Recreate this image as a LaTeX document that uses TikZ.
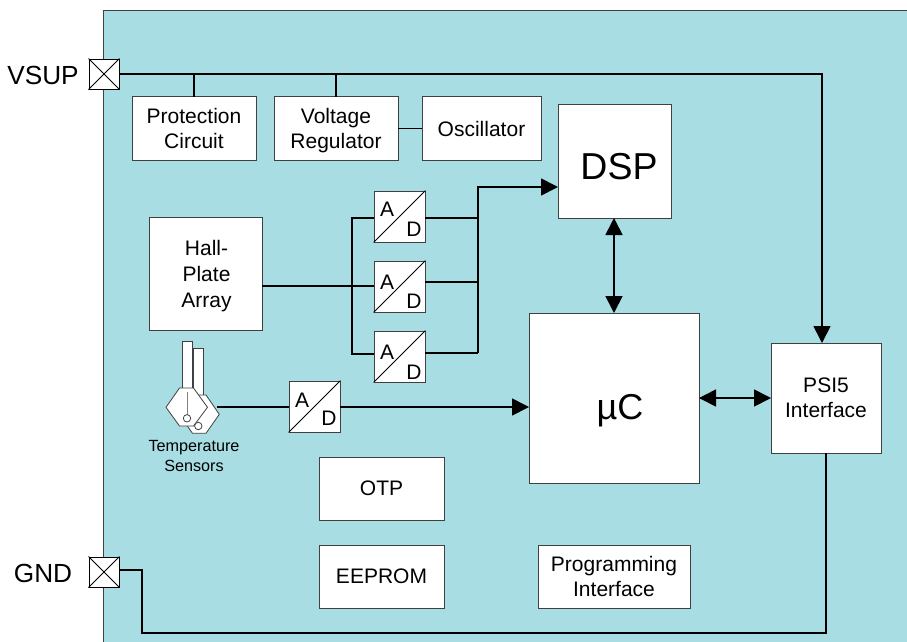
\documentclass[tikz,border=0pt]{standalone}
\usepackage{fontspec}
\setmainfont{Liberation Sans}
\usetikzlibrary{arrows.meta,calc}
\definecolor{panelcol}{HTML}{A8DDE3}
\definecolor{edgecol}{HTML}{404040}
\tikzset{
  boxstyle/.style={draw=edgecol,fill=white,line width=0.9pt,inner sep=0pt,align=center,font=\fontsize{21}{25}\selectfont},
  padstyle/.style={draw=black,fill=white,line width=1pt,minimum size=30pt,inner sep=0pt},
  pinlabel/.style={font=\fontsize{26.2}{30}\selectfont,inner sep=0pt},
  adletter/.style={font=\fontsize{21}{24}\selectfont,inner sep=0pt},
  bigletter/.style={inner sep=0pt},
  wire/.style={draw=black,line width=1.7pt},
  wirethin/.style={draw=black,line width=1.3pt},
  arrowed/.style={wire,-{Triangle[length=17pt,width=17pt]}},
  biarrow/.style={wire,{Triangle[length=17pt,width=17pt]}-{Triangle[length=17pt,width=17pt]}},
  sensorbody/.style={draw=edgecol,fill=white,line width=0.8pt},
  sensorline/.style={draw=gray,line width=0.9pt},
}
\newcommand{\blockat}[6]{% name, x0,y0,x1,y1, text
  \node[boxstyle,minimum width={(#4-#2)*1pt},minimum height={(#5-#3)*1pt}] (#1) at ({(#2+#4)/2},{(#3+#5)/2}) {#6};}
\newcommand{\adcell}[5]{% name, x0, y0, A offset y, D offset y
  \node[boxstyle,minimum size=51pt] (#1) at ({#2+25.5},{#3+25.5}) {};
  \draw[draw=black,line width=0.8pt] (#1.south west) -- (#1.north east);
  \node[adletter] (#1a) at ({#2+13},{#3+#4}) {A};
  \node[adletter] (#1d) at ({#2+40},{#3+#5}) {D};}
\begin{document}
\begin{tikzpicture}[x=1pt,y=-1pt]
\useasboundingbox (0,0) rectangle (907,641);
\fill[panelcol] (103.5,10) rectangle (912,646);
\draw[edgecol,line width=0.9pt] (912,10) -- (103.5,10) -- (103.5,646);

\node[padstyle] (vsup) at (104,74) {};
\draw[black,line width=1pt] (vsup.north west) -- (vsup.south east) (vsup.north east) -- (vsup.south west);
\node[padstyle] (gnd) at (104,572) {};
\draw[black,line width=1pt] (gnd.north west) -- (gnd.south east) (gnd.north east) -- (gnd.south west);
\node[pinlabel] (vsuplabel) at (43,75.5) {VSUP};
\node[pinlabel] (gndlabel) at (43,573.5) {GND};

\blockat{prot}{132}{96.5}{256}{160.5}{Protection\\Circuit}
\blockat{vreg}{274}{96.5}{398}{160.5}{Voltage\\\smash{Regulator}}
\blockat{osc}{422}{96.5}{541}{160.5}{Oscillator}
\blockat{dsp}{558}{104}{671}{218}{}
\node[bigletter,font=\fontsize{37.5}{40}\selectfont] (dsptext) at (619,167) {DSP};
\blockat{hall}{149}{217.5}{262}{330.5}{\hspace{2pt}Hall-\\[1pt]\hspace{2pt}Plate\\[1pt]\hspace{2pt}\smash{Array}}
\blockat{uc}{529}{313}{699}{483}{}
\node[bigletter,font=\fontsize{36}{40}\selectfont] (uctext) at (620,411) {µC};
\blockat{psi}{771}{343}{881}{453}{PSI5\\Interface}
\blockat{otp}{319}{457}{444}{520}{OTP}
\blockat{eeprom}{319}{545}{444}{608}{EEPROM}
\blockat{prog}{538}{545}{690}{608}{Programming\\Interface}

\adcell{ada}{374}{191}{18}{38}
\adcell{adb}{374}{261}{21}{40}
\adcell{adc}{374}{331}{21}{41}
\adcell{add}{289}{381}{19}{37}

% temperature sensors
\draw[sensorbody] (193,348) rectangle (203,396);
\draw[sensorbody] (191.5,395) -- (206,395) -- (219.3,414.3) -- (206,433.3) -- (192.5,433.3) -- (179,414.3) -- cycle;
\draw[sensorbody] (182,341) rectangle (192,389);
\draw[sensorbody] (179.5,388) -- (193.5,388) -- (207.5,407.3) -- (193.5,426) -- (179.5,426) -- (166,407.3) -- cycle;
\draw[sensorline] (187,391.5) -- (187,414.5);
\node[sensorbody,circle,minimum size=7.4pt,inner sep=0pt] (sa) at (187,418.3) {};
\draw[sensorline] (198.3,424) -- (198.3,422);
\node[sensorbody,circle,minimum size=7.4pt,inner sep=0pt] (sb) at (198.3,426) {};
\coordinate (sensorout) at (217,407);
\node[font=\fontsize{16.2}{19.5}\selectfont,align=center,inner sep=0pt] (templabel) at (194,456) {Temperature\\Sensors};

% ports
\coordinate (psitop) at (822,343);
\coordinate (psibot) at (826,453);
\coordinate (protin) at (194,97);
\coordinate (vregin) at (336,97);
\coordinate (hallout) at (262,286);
\coordinate (adbin) at (374,286);
\coordinate (adain) at (374,218);
\coordinate (adcin) at (374,354);
\coordinate (adaout) at (425,218);
\coordinate (adbout) at (425,282);
\coordinate (adcout) at (425,353);
\coordinate (dspin) at (558,187);
\coordinate (dspout) at (614,218);
\coordinate (ucin) at (614,313);
\coordinate (ucleft) at (529,407);
\coordinate (ucright) at (699,398);
\coordinate (psileft) at (771,398);
\coordinate (gndout) at (119,570);
\coordinate (busa) at (352,218);
\coordinate (busc) at (352,354);
\coordinate (busd) at (478,187);
\coordinate (buse) at (478,353);
\coordinate (adbj) at (478,282);
\coordinate (adaj) at (478,218);
\coordinate (adbl) at (289,407);
\coordinate (adbr) at (340,407);
\coordinate (gnda) at (142,570);
\coordinate (gndb) at (142,633);
\coordinate (gndc) at (826,633);
\coordinate (vsupe) at (119,74);
\coordinate (vsupf) at (822,74);
\coordinate (protj) at (194,74);
\coordinate (vregj) at (336,74);

\draw[arrowed] (vsupe) -- (vsupf) -- (psitop);
\draw[wirethin] (protj) -- (protin);
\draw[wirethin] (vregj) -- (vregin);
\draw[wirethin] (vreg.east) -- (osc.west);
\draw[wire] (hallout) -- (adbin);
\draw[wire] (adain) -- (busa) -- (busc) -- (adcin);
\draw[wire] (adcout) -- (buse);
\draw[wirethin] (adbout) -- (adbj);
\draw[wire] (adaout) -- (adaj);
\draw[arrowed] (buse) -- (busd) -- (dspin);
\draw[biarrow] (dspout) -- (ucin);
\draw[biarrow] (ucright) -- (psileft);
\draw[wire] (sensorout) -- (adbl);
\draw[arrowed] (adbr) -- (ucleft);
\draw[wire] (gndout) -- (gnda) -- (gndb) -- (gndc) -- (psibot);
\end{tikzpicture}
\end{document}
